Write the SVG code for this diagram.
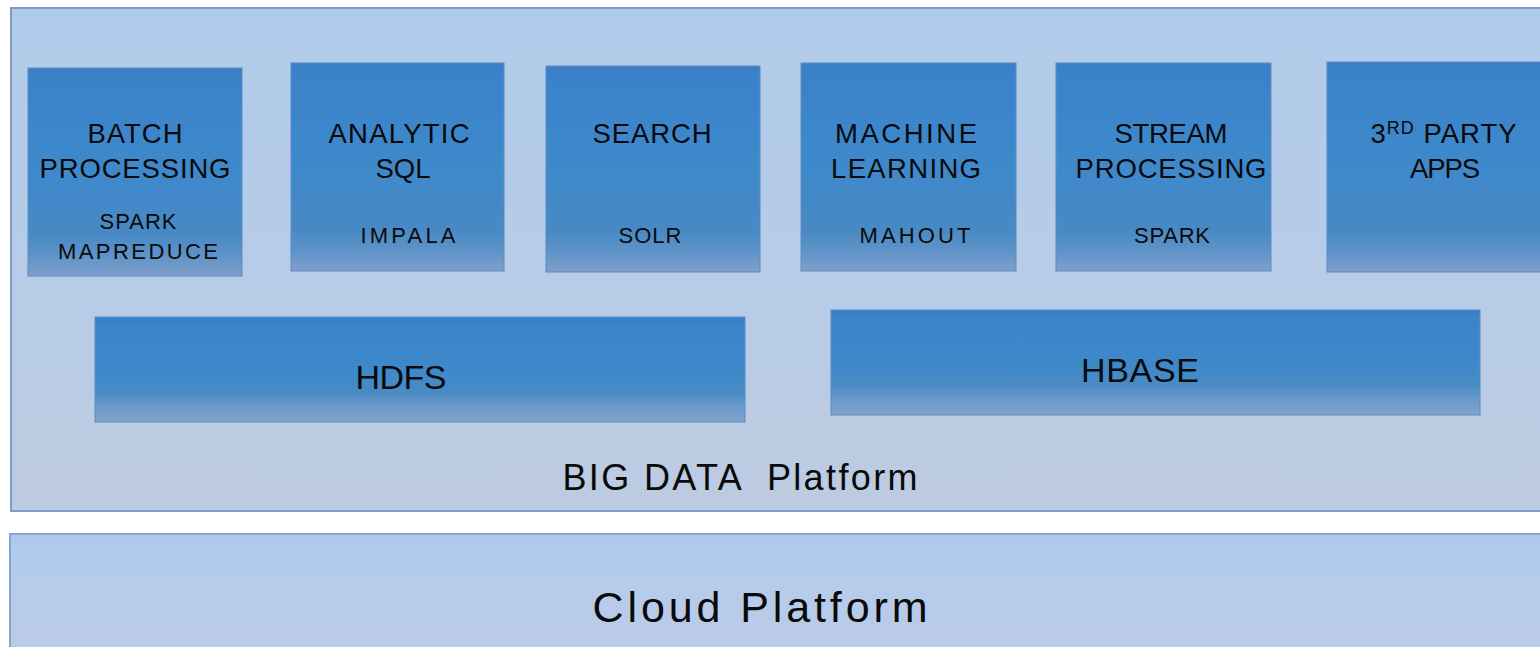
<svg xmlns="http://www.w3.org/2000/svg" width="1540" height="647" viewBox="0 0 1540 647">
<defs>
<linearGradient id="gPlat" x1="0" y1="0" x2="0" y2="1">
<stop offset="0" stop-color="#b0cbea"/>
<stop offset="0.5" stop-color="#b6cce8"/>
<stop offset="1" stop-color="#bdcbe0"/>
</linearGradient>
<linearGradient id="gCloud" x1="0" y1="0" x2="0" y2="1">
<stop offset="0" stop-color="#aec8ee"/>
<stop offset="0.3" stop-color="#b4ccec"/>
<stop offset="1" stop-color="#bacbe6"/>
</linearGradient>
<linearGradient id="gBox" x1="0" y1="0" x2="0" y2="1">
<stop offset="0" stop-color="#3a7ec4"/>
<stop offset="0.05" stop-color="#3a82c9"/>
<stop offset="0.5" stop-color="#3e89cc"/>
<stop offset="0.8" stop-color="#4889c4"/>
<stop offset="0.9" stop-color="#5e93c8"/>
<stop offset="1" stop-color="#7f9fca"/>
</linearGradient>
<linearGradient id="gBar" x1="0" y1="0" x2="0" y2="1">
<stop offset="0" stop-color="#3a7ec2"/>
<stop offset="0.08" stop-color="#3a84ca"/>
<stop offset="0.55" stop-color="#3e89ca"/>
<stop offset="0.72" stop-color="#4a8bc4"/>
<stop offset="0.85" stop-color="#6a9acc"/>
<stop offset="1" stop-color="#85a2c8"/>
</linearGradient>
</defs>
<style>
.plat{fill:url(#gPlat);stroke:#7d9ccb;stroke-width:2}
.cloud{fill:url(#gCloud);stroke:#86a6cf;stroke-width:2}
.box{fill:url(#gBox);stroke:#5d8cc4;stroke-width:1}
.bar{fill:url(#gBar);stroke:#5d8cc4;stroke-width:1}
text{font-family:"Liberation Sans",Arial,sans-serif;fill:#0a0a0a;text-anchor:middle}
.t{font-size:27.5px}
.s{font-size:22px}
.big{font-size:36px;white-space:pre}
.huge{font-size:43px}
.bartxt{font-size:34px}
</style>
<g id="bigdata-platform">
<rect class="plat" x="11" y="8" width="1535" height="503"/>
<text class="big" x="740" y="490" xml:space="preserve" textLength="355">BIG DATA  Platform</text>
</g>
<g id="cloud-platform">
<rect class="cloud" x="10" y="534" width="1536" height="120"/>
<text class="huge" x="760" y="622" textLength="335">Cloud Platform</text>
</g>
<g id="batch">
<rect class="box" x="28" y="68" width="214" height="208"/>
<text class="t" x="135" y="143" textLength="95">BATCH</text>
<text class="t" x="135" y="178" textLength="191">PROCESSING</text>
<text class="s" x="138" y="229" textLength="77">SPARK</text>
<text class="s" x="138" y="259" textLength="160">MAPREDUCE</text>
</g>
<g id="analytic">
<rect class="box" x="291" y="63" width="213" height="208"/>
<text class="t" x="399" y="143" textLength="141">ANALYTIC</text>
<text class="t" x="403" y="178">SQL</text>
<text class="s" x="408" y="243" textLength="95">IMPALA</text>
</g>
<g id="search">
<rect class="box" x="546" y="66" width="214" height="206"/>
<text class="t" x="652" y="143" textLength="119">SEARCH</text>
<text class="s" x="650" y="243" textLength="63">SOLR</text>
</g>
<g id="ml">
<rect class="box" x="801" y="63" width="215" height="208"/>
<text class="t" x="906" y="143" textLength="142">MACHINE</text>
<text class="t" x="906" y="178" textLength="150">LEARNING</text>
<text class="s" x="915" y="243" textLength="111">MAHOUT</text>
</g>
<g id="stream">
<rect class="box" x="1056" y="63" width="215" height="208"/>
<text class="t" x="1171" y="143" textLength="113">STREAM</text>
<text class="t" x="1171" y="178" textLength="191">PROCESSING</text>
<text class="s" x="1172" y="243" textLength="76">SPARK</text>
</g>
<g id="thirdparty">
<rect class="box" x="1327" y="62" width="220" height="210"/>
<text class="t" x="1444" y="143" letter-spacing="1">3<tspan font-size="18" dy="-9">RD</tspan><tspan dy="9"> PARTY</tspan></text>
<text class="t" x="1445" y="178" textLength="70">APPS</text>
</g>
<g id="hdfs">
<rect class="bar" x="95" y="317" width="650" height="105"/>
<text class="bartxt" x="401" y="389" textLength="91">HDFS</text>
</g>
<g id="hbase">
<rect class="bar" x="831" y="310" width="649" height="105"/>
<text class="bartxt" x="1140" y="382" textLength="118">HBASE</text>
</g>
<g id="connectors"/>
</svg>
